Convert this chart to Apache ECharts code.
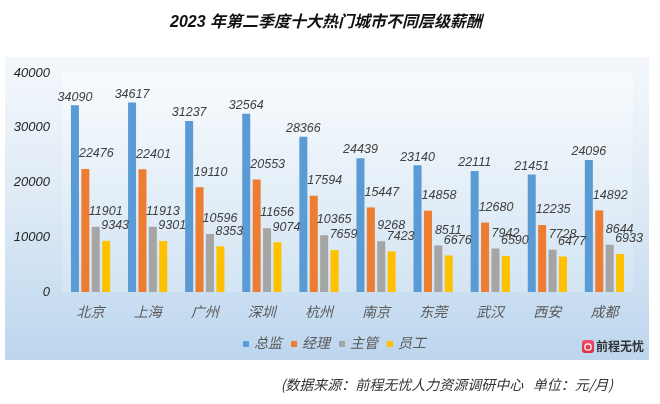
<!DOCTYPE html>
<html>
<head>
<meta charset="utf-8">
<script src="https://cdn.jsdelivr.net/npm/echarts@6/dist/echarts.min.js"></script>
<style>
html,body{margin:0;padding:0;background:#fff;}
#chart{width:660px;height:404px;}
</style>
</head>
<body>
<div id="chart"></div>
<script>
const cities = ['北京','上海','广州','深圳','杭州','南京','东莞','武汉','西安','成都'];
const seriesNames = ['总监','经理','主管','员工'];
const director = [34090,34617,31237,32564,28366,24439,23140,22111,21451,24096];
const manager  = [22476,22401,19110,20553,17594,15447,14858,12680,12235,14892];
const supervisor = [11901,11913,10596,11656,10365,9268,8511,7942,7728,8644];
const staff = [9343,9301,8353,9074,7659,7423,6676,6590,6477,6933];
const yTicks = [0,10000,20000,30000,40000];

const colors = ['#5b9bd5','#ed7d31','#a5a5a5','#ffc000'];
const FONT = '"Liberation Sans","Noto Sans CJK SC",sans-serif';
const values = [director, manager, supervisor, staff];
const labelOffsets = [[0,0],[11,0],[10,0],[9,0]];
const labelDistances = [2,9,9,9];

const chart = echarts.init(document.getElementById('chart'), null, {renderer:'canvas'});
chart.setOption({
  backgroundColor:'#ffffff',
  animation:false,
  color: colors,
  textStyle:{fontFamily:FONT},
  title:{
    text:'2023 年第二季度十大热门城市不同层级薪酬',
    left:321, top:10, textAlign:'center',
    textStyle:{fontFamily:FONT, fontSize:16, fontWeight:'bold', fontStyle:'italic', color:'#111'}
  },
  graphic:[
    {type:'rect', z:-10, shape:{x:5,y:57,width:644,height:303},
     style:{fill:new echarts.graphic.LinearGradient(0,0,0,1,[
       {offset:0,color:'#f4f8fc'},{offset:0.5,color:'#dde9f5'},{offset:1,color:'#bcd6ee'}])}},
    {type:'rect', z:10, shape:{x:582,y:340,width:12,height:13,r:3},
     style:{fill:new echarts.graphic.LinearGradient(0,0,0,1,[
       {offset:0,color:'#f0506e'},{offset:1,color:'#e0283c'}])}},
    {type:'circle', z:11, shape:{cx:588,cy:347,r:3.2},
     style:{fill:'none',stroke:'#fff',lineWidth:1.3}},
    {type:'text', z:11, x:596, y:340,
     style:{text:'前程无忧', font:'bold 12px "Noto Sans CJK SC",sans-serif', fill:'#333'}},
    {type:'text', z:11, x:613, y:378,
     style:{text:'(数据来源：前程无忧人力资源调研中心   单位：元/月)', align:'right',
       font:'italic 14px "Noto Sans CJK SC",sans-serif', fill:'#333'}}
  ],
  legend:{
    data:seriesNames, left:238, top:332, icon:'rect', itemWidth:6, itemHeight:6, itemGap:9,
    textStyle:{fontFamily:FONT, fontSize:14, fontStyle:'italic', color:'#595959'}
  },
  grid:{
    left:62, right:27, top:73, bottom:112, show:true, borderWidth:0,
    backgroundColor:new echarts.graphic.LinearGradient(0,0,0,1,[
      {offset:0,color:'#f8fbfd'},{offset:1,color:'#d3e4f3'}])
  },
  xAxis:{
    type:'category', data:cities,
    axisLine:{show:false}, axisTick:{show:false},
    axisLabel:{fontFamily:FONT, fontSize:14, fontStyle:'italic', color:'#595959', margin:14}
  },
  yAxis:{
    type:'value', min:yTicks[0], max:yTicks[yTicks.length-1], interval:10000,
    splitLine:{show:false}, axisLine:{show:false}, axisTick:{show:false},
    axisLabel:{fontFamily:FONT, fontSize:13, fontStyle:'italic', color:'#262626', margin:12,
      formatter:(v)=>String(v)}
  },
  series: seriesNames.map((n,i)=>({
    name:n, type:'bar', data:values[i], barWidth:8, barGap:'30%',
    itemStyle:{color:colors[i]},
    label:{show:true, position:'top', distance:labelDistances[i], offset:labelOffsets[i],
      fontFamily:FONT, fontSize:12.5, fontStyle:'italic', color:'#404040'}
  }))
});
</script>
</body>
</html>
